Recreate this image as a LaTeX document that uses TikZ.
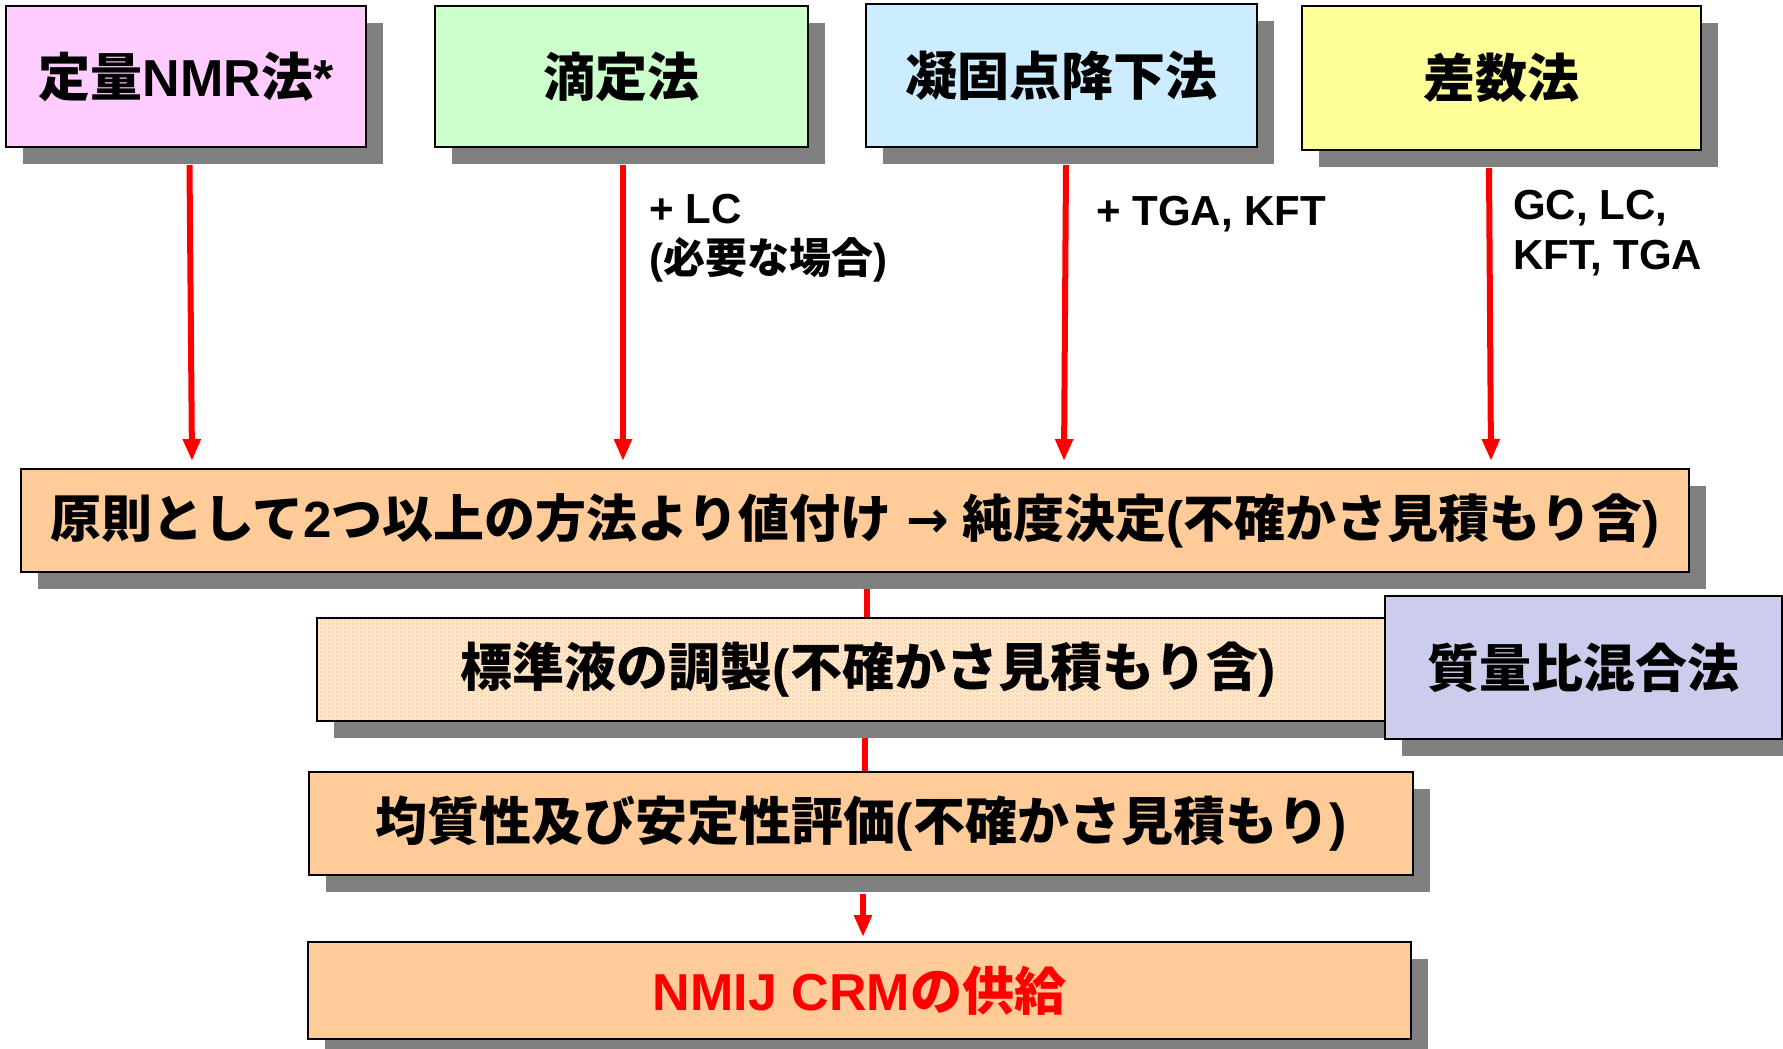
\documentclass[tikz,border=0pt]{standalone}
\usepackage{fontspec}
\setmainfont{Liberation Sans}
\newfontfamily\jp{Noto Sans CJK JP Bold}
\newfontfamily\dv{DejaVu Sans}
\usetikzlibrary{shadows,arrows.meta,calc,backgrounds,patterns}
\pgfdeclarepatternformonly{finecheck}{\pgfpointorigin}{\pgfpoint{4pt}{4pt}}{\pgfpoint{4pt}{4pt}}%
  {\pgfpathrectangle{\pgfpointorigin}{\pgfpoint{2pt}{2pt}}%
   \pgfpathrectangle{\pgfpoint{2pt}{2pt}}{\pgfpoint{2pt}{2pt}}%
   \pgfusepath{fill}}
\definecolor{cpink}{RGB}{255,204,255}
\definecolor{cgreen}{RGB}{204,255,204}
\definecolor{cblue}{RGB}{204,236,255}
\definecolor{cyellow}{RGB}{255,255,153}
\definecolor{corange}{RGB}{255,204,153}
\definecolor{cmass}{RGB}{204,204,236}
\definecolor{shadowgray}{RGB}{128,128,128}
\definecolor{arrred}{RGB}{255,0,0}
\begin{document}
\begin{tikzpicture}[x=1pt,y=-1pt,
  box/.style={draw=black, line width=2pt, inner sep=0pt, align=center,
    font=\bfseries\fontsize{52}{60}\selectfont,
    general shadow={fill=shadowgray, shadow xshift=17pt, shadow yshift=-17pt}},
  lbl/.style={font=\bfseries\fontsize{42}{50}\selectfont, align=left, anchor=west, inner sep=0pt},
  arr/.style={draw=arrred, line width=6pt, -{Triangle[length=22pt,width=17pt]}},
  link/.style={draw=arrred, line width=6pt}]
\useasboundingbox (0,0) rectangle (1783,1049);

% top method boxes
\node[box, fill=cpink, minimum width=360pt, minimum height=141pt] (b1) at (186,76.5) {{\jp 定量}NMR{\jp 法}*};
\node[box, fill=cgreen, minimum width=373pt, minimum height=141pt] (b2) at (621.5,76.5) {{\jp 滴定法}};
\node[box, fill=cblue, minimum width=391pt, minimum height=143pt] (b3) at (1061.5,75.5) {{\jp 凝固点降下法}};
\node[box, fill=cyellow, minimum width=399pt, minimum height=144pt] (b4) at (1501.5,78) {{\jp 差数法}};

% main box
\node[box, fill=corange, minimum width=1668pt, minimum height=103pt,
  font=\bfseries\fontsize{51}{60}\selectfont] (main) at (855,520.5)
  {{\jp 原則として}2{\jp つ以上の方法より値付け} {\dv\bfseries →} {\jp 純度決定}({\jp 不確かさ見積もり含})};

% standard solution box
\node[box, preaction={fill=corange!35!white}, pattern=finecheck, pattern color=corange,
  minimum width=1068pt, minimum height=103pt] (std) at (851,669.5)
  {\hspace*{34pt}{\jp 標準液の調製}({\jp 不確かさ見積もり含})};

% mass ratio box
\node[box, fill=cmass, minimum width=397pt, minimum height=143pt] (mass) at (1583.5,667.5) {{\jp 質量比混合法}};

% homogeneity box
\node[box, fill=corange, minimum width=1104pt, minimum height=103pt] (homo) at (861,823.5)
  {{\jp 均質性及び安定性評価}({\jp 不確かさ見積もり})};

% NMIJ supply
\node[box, fill=corange, minimum width=1103pt, minimum height=97pt, text=arrred] (nmij) at (859.5,990.5)
  {NMIJ CRM{\jp の供給}};

% labels
\node[lbl] (l2) at (649,238) {+ LC\\({\jp 必要な場合})};
\node[lbl] (l3) at (1096,214) {+ TGA, KFT};
\node[lbl] (l4) at (1513,233) {GC, LC,\\KFT, TGA};

\coordinate (m1) at ($(main.south)+(12,0)$);
\coordinate (s1) at ($(std.south)+(14,0)$);
\coordinate (h1) at ($(homo.south)+(2,18)$);

\begin{scope}[on background layer]
  \draw[arr] ($(b1.south)+(3.5,17)$) -- ($(b1.south |- main.north)+(6,-7)$);
  \draw[arr] ($(b2.south)+(1.5,17)$) -- ($(b2.south |- main.north)+(1.5,-7)$);
  \draw[arr] ($(b3.south)+(4.5,17)$) -- ($(b3.south |- main.north)+(2.5,-7)$);
  \draw[arr] ($(b4.south)+(-12.5,17)$) -- ($(b4.south |- main.north)+(-10.5,-7)$);
  \draw[link] (m1) -- (m1 |- std.north);
  \draw[link] (s1) -- (s1 |- homo.north);
  \draw[arr] (h1) -- ($(h1 |- nmij.north)+(0,-4)$);
\end{scope}
\end{tikzpicture}
\end{document}
